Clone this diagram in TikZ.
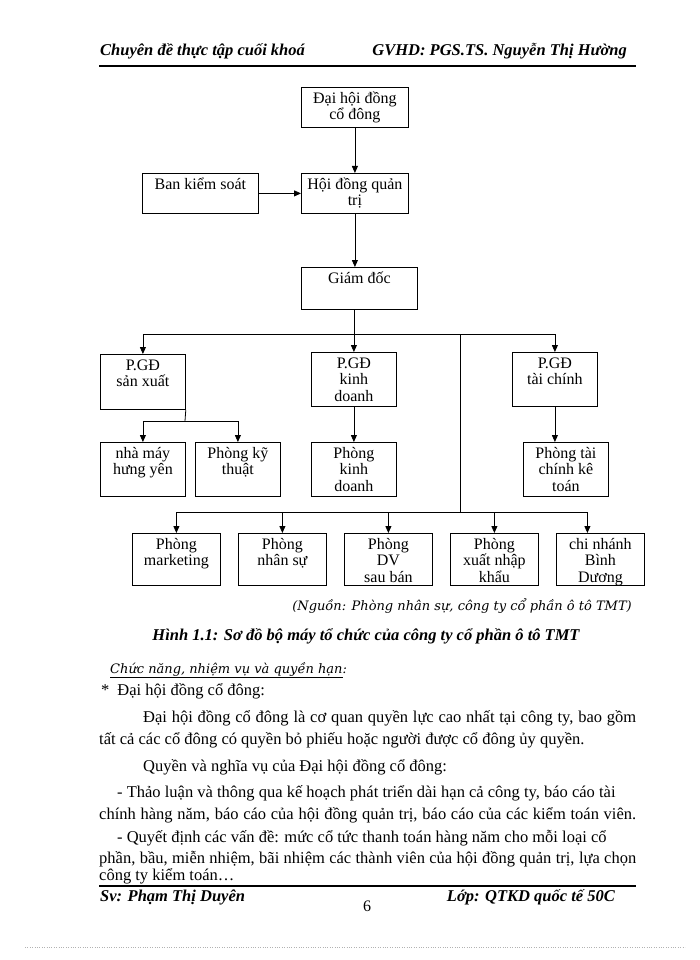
\documentclass[tikz,border=0pt]{standalone}
\usepackage{fontspec}
\setmainfont{Liberation Serif}
\newfontfamily\notefont{DejaVu Serif}
\usetikzlibrary{arrows.meta}

% text of a box, set from its top
\newcommand{\bt}[3]{\parbox[t][#2pt][t]{#1pt}{\centering\rule{0pt}{16pt}#3}}

\begin{document}
\begin{tikzpicture}[x = 1pt, y = -1pt,
                        box/.style = {draw, line width = 0.8pt, anchor = north west, inner sep = 0pt,
                                      font = \fontsize{16}{16.5}\selectfont},
                        arr/.style = {line width = 0.8pt, -{Triangle[length = 7pt, width = 6pt]}},
                        bus/.style = {line width = 0.8pt},
                        hdr/.style = {inner sep = 0pt, font = \fontsize{16.5}{19}\selectfont\bfseries\itshape},
                        note/.style = {inner sep = 0pt, font = \fontsize{13}{16}\selectfont\notefont\itshape},
                        body/.style = {anchor = west, inner sep = 0pt, text height = 11pt, text depth = 3.5pt,
                                       font = \fontsize{16.5}{19}\selectfont}]
      \fill [white] (0, 0) rectangle (700, 960);
      \useasboundingbox (0, 0) rectangle (700, 960);

      % page head
      \node [hdr, anchor = west] (hleft) at (100, 51) {Chuyên đề thực tập cuối khoá};
      \node [hdr, anchor = east] (hright) at (627, 51) {GVHD: PGS.TS. Nguyễn Thị Hường};
      \draw [line width = 1.5pt] (99, 66) -- (636, 66);

      % chart
      \node [box] (dhcd) at (301, 87) {\bt{107}{40}{Đại hội đồng\\cổ đông}};
      \node [box] (bks) at (142, 173) {\bt{116}{40}{Ban kiểm soát}};
      \node [box] (hdqt) at (301, 173) {\bt{107}{40}{Hội đồng quản\\trị}};
      \node [box] (gd) at (301, 267) {\bt{116}{42}{Giám đốc}};

      \node [box] (pgdsx) at (100, 354) {\bt{85}{55}{P.GĐ\\sản xuất}};
      \node [box] (pgdkd) at (311, 352) {\bt{85}{54}{P.GĐ\\kinh\\doanh}};
      \node [box] (pgdtc) at (512, 352) {\bt{85}{54}{P.GĐ\\tài chính}};

      \node [box] (nmhy) at (100, 442) {\bt{85}{54}{nhà máy\\hưng yên}};
      \node [box] (pkt) at (195, 442) {\bt{85}{54}{Phòng kỹ\\thuật}};
      \node [box] (pkd) at (311, 442) {\bt{85}{54}{Phòng\\kinh\\doanh}};
      \node [box] (ptckt) at (523, 442) {\bt{85}{54}{Phòng tài\\chính kê\\toán}};

      \node [box] (pmkt) at (132, 533) {\bt{88}{52}{Phòng\\marketing}};
      \node [box] (pns) at (238, 533) {\bt{88}{52}{Phòng\\nhân sự}};
      \node [box] (pdv) at (344, 533) {\bt{88}{52}{Phòng\\DV\\sau bán}};
      \node [box] (pxnk) at (450, 533) {\bt{88}{52}{Phòng\\xuất nhập\\khẩu}};
      \node [box] (cnbd) at (556, 533) {\bt{88}{52}{chi nhánh\\Bình\\Dương}};

      \coordinate (gdbus) at (354, 334);
      \coordinate (sxbus) at (185, 421);
      \coordinate (pbus) at (460, 512);
      \coordinate (cnin) at ([xshift = -13pt] cnbd.north);

      \draw [arr] (dhcd) -- (hdqt);
      \draw [arr] (bks) -- (hdqt);
      \draw [arr] (hdqt.south) -- (hdqt.south |- gd.north);
      \draw [arr] (gd.south -| pgdkd) -- (pgdkd.north);

      \draw [bus] (gdbus -| pgdsx) -- (gdbus -| pgdtc);
      \draw [arr] (gdbus -| pgdsx) -- (pgdsx.north);
      \draw [arr] (gdbus -| pgdtc) -- (pgdtc.north);

      \draw [bus] (pgdsx.south east) -- (sxbus);
      \draw [bus] (sxbus -| nmhy) -- (sxbus -| pkt);
      \draw [arr] (sxbus -| nmhy) -- (nmhy.north);
      \draw [arr] (sxbus -| pkt) -- (pkt.north);

      \draw [arr] (pgdkd) -- (pkd);
      \draw [arr] (pgdtc.south) -- (pgdtc.south |- ptckt.north);

      \draw [bus] (gdbus -| pbus) -- (pbus);
      \draw [bus] (pbus -| pmkt) -- (pbus -| cnin);
      \foreach \p in {pmkt, pns, pdv, pxnk}
        \draw [arr] (pbus -| \p) -- (\p.north);
      \draw [arr] (pbus -| cnin) -- (cnin);

      % source and caption
      \node [note, anchor = east] (src) at (632, 606) {(Nguồn: Phòng nhân sự, công ty cổ phần ô tô TMT)};
      \node [hdr] (cap) at (366, 636) {Hình 1.1: Sơ đồ bộ máy tổ chức của công ty cổ phần ô tô TMT};
      \node [note, anchor = west] (sub) at (110, 670) {\underline{Chức năng, nhiệm vụ và quyền hạn}:};

      % text
      \node [body] (t0) at (101, 692) {*\hspace{8pt}Đại hội đồng cổ đông:};
      \node [body] (t1) at (143, 719) {\makebox[493pt][s]{Đại hội đồng cổ đông là cơ quan quyền lực cao nhất tại công ty, bao gồm}};
      \node [body] (t2) at (99, 741) {tất cả các cổ đông có quyền bỏ phiếu hoặc người được cổ đông ủy quyền.};
      \node [body] (t3) at (143, 768) {Quyền và nghĩa vụ của Đại hội đồng cổ đông:};
      \node [body] (t4) at (117, 794) {- Thảo luận và thông qua kế hoạch phát triển dài hạn cả công ty, báo cáo tài};
      \node [body] (t5) at (99, 816) {\makebox[537pt][s]{chính hàng năm, báo cáo của hội đồng quản trị, báo cáo của các kiểm toán viên.}};
      \node [body] (t6) at (117, 839) {- Quyết định các vấn đề: mức cổ tức thanh toán hàng năm cho mỗi loại cổ};
      \node [body] (t7) at (99, 860) {\makebox[537pt][s]{phần, bầu, miễn nhiệm, bãi nhiệm các thành viên của hội đồng quản trị, lựa chọn}};
      \node [body] (t8) at (99, 877) {công ty kiểm toán…};

      % page foot
      \draw [line width = 1.5pt] (99, 886) -- (636, 886);
      \node [hdr, anchor = west] (fleft) at (100, 897) {Sv: Phạm Thị Duyên};
      \node [inner sep = 0pt, font = \fontsize{16}{18}\selectfont] (pageno) at (367, 906) {6};
      \node [hdr, anchor = east] (fright) at (615, 897) {Lớp: QTKD quốc tế 50C};
      \draw [gray!60, dotted] (25, 947) -- (685, 947);

      \end{tikzpicture}
\end{document}
